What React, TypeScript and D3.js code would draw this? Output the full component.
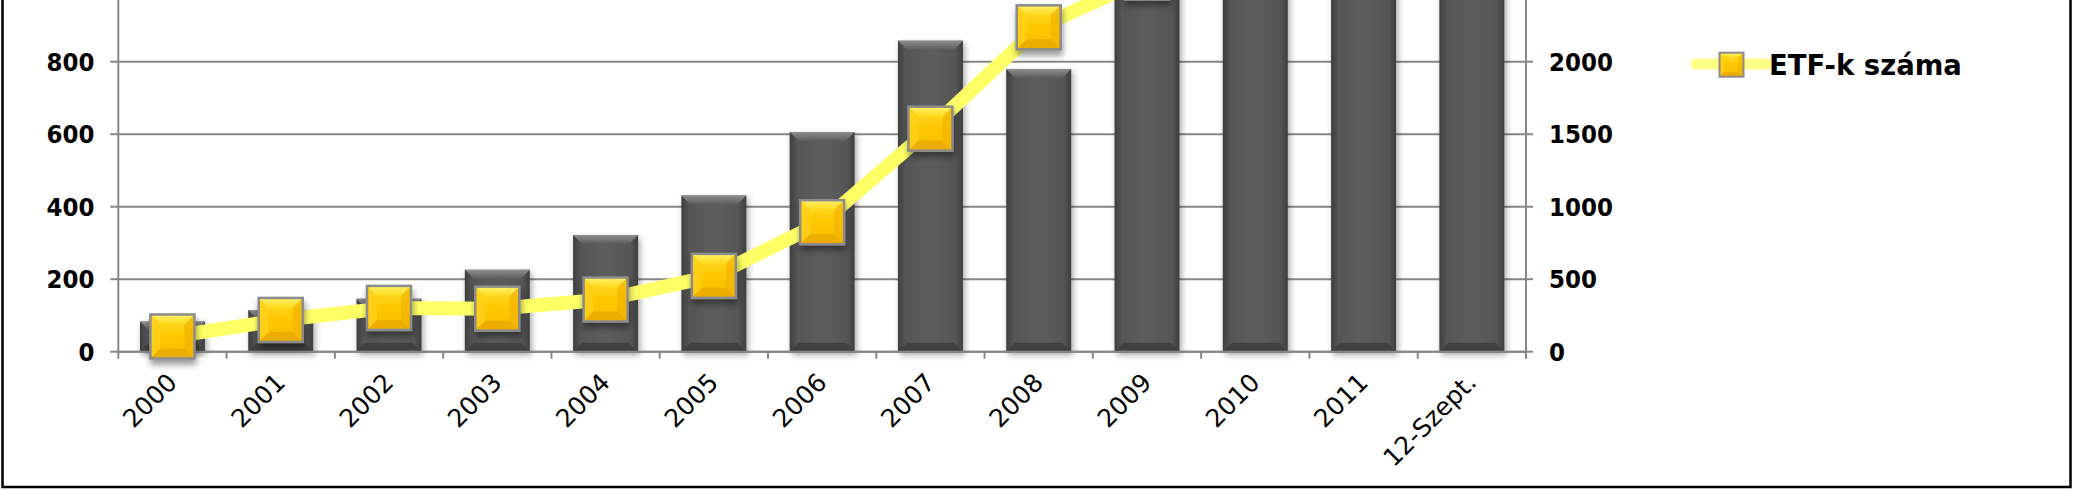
import React from "react";
import * as d3 from "d3";

const categories = ["2000","2001","2002","2003","2004","2005","2006","2007","2008","2009","2010","2011","12-Szept."];
const assets = [83, 115, 146, 226, 322, 431, 606, 858, 780, 1100, 1300, 1350, 1700];
const etfCount = [105, 219, 302, 297, 360, 523, 893, 1538, 2237, 2580, 2950, 3250, 3500];
const leftTicks = [0, 200, 400, 600, 800];
const rightTicks = [0, 500, 1000, 1500, 2000];
const legendLabel = "ETF-k száma";

const W = 2073, H = 491;
const plotLeft = 118.3, plotRight = 1526;
const yZero = 351.7, yTopTick = 61.7;
const axisFont = "'DejaVu Sans Condensed', 'DejaVu Sans', sans-serif";
const labelFont = "'DejaVu Sans', Verdana, sans-serif";

export default function App() {
  const x = d3.scaleBand<string>().domain(categories).range([plotLeft, plotRight]).padding(0);
  const yL = d3.scaleLinear().domain([0, 800]).range([yZero, yTopTick]);
  const yR = d3.scaleLinear().domain([0, 2000]).range([yZero, yTopTick]);
  const bw = x.bandwidth();
  const barW = bw * 0.6;
  const cx = (c: string) => (x(c) as number) + bw / 2;
  const lineGen = d3.line<number>().x((_, i) => cx(categories[i])).y((v) => yR(v));
  const mk = 44;
  const bb = 9;
  const mb = 10;

  const marker = (xc: number, yc: number, s: number, b: number, key: string, shadow: boolean) => {
    const x0 = xc - s / 2, x1 = xc + s / 2, y0 = yc - s / 2, y1 = yc + s / 2;
    return (
      <g key={key} filter={shadow ? "url(#mkShadow)" : undefined}>
        <rect x={x0} y={y0} width={s} height={s} fill="url(#mkBody)" />
        <polygon points={`${x0},${y0} ${x1},${y0} ${x1 - b},${y0 + b} ${x0 + b},${y0 + b}`} fill="url(#mkTop)" />
        <polygon points={`${x0},${y0} ${x0 + b},${y0 + b} ${x0 + b},${y1 - b} ${x0},${y1}`} fill="#ffd21a" opacity={0.7} />
        <polygon points={`${x1},${y0} ${x1 - b},${y0 + b} ${x1 - b},${y1 - b} ${x1},${y1}`} fill="#f2b300" opacity={0.7} />
        <polygon points={`${x0},${y1} ${x1},${y1} ${x1 - b},${y1 - b} ${x0 + b},${y1 - b}`} fill="#eaa900" opacity={0.8} />
        <rect x={x0} y={y0} width={s} height={s} fill="none" stroke="#8c8c8c" strokeWidth={s > 30 ? 2.5 : 2} />
      </g>
    );
  };

  return (
    <div style={{ position: "absolute", left: 0, top: 0, width: W, height: H, background: "#fff" }}>
      <svg width={W} height={H} style={{ display: "block" }}>
        <defs>
          <linearGradient id="barBody" x1="0" y1="0" x2="1" y2="0">
            <stop offset="0" stopColor="#3e3e3e" />
            <stop offset="0.12" stopColor="#565656" />
            <stop offset="0.5" stopColor="#5d5d5d" />
            <stop offset="0.88" stopColor="#565656" />
            <stop offset="1" stopColor="#3e3e3e" />
          </linearGradient>
          <linearGradient id="barTop" x1="0" y1="0" x2="0" y2="1">
            <stop offset="0" stopColor="#8e8e8e" />
            <stop offset="1" stopColor="#5c5c5c" />
          </linearGradient>
          <linearGradient id="mkBody" x1="0" y1="0" x2="0" y2="1">
            <stop offset="0" stopColor="#ffdc2e" />
            <stop offset="0.5" stopColor="#ffc800" />
            <stop offset="1" stopColor="#f7bb00" />
          </linearGradient>
          <linearGradient id="mkTop" x1="0" y1="0" x2="0" y2="1">
            <stop offset="0" stopColor="#fff36a" />
            <stop offset="1" stopColor="#ffd81c" />
          </linearGradient>
          <filter id="barShadow" x="-20%" y="-20%" width="140%" height="140%">
            <feDropShadow dx="2" dy="3" stdDeviation="3" floodColor="#000" floodOpacity="0.35" />
          </filter>
          <filter id="mkShadow" x="-40%" y="-40%" width="180%" height="180%">
            <feDropShadow dx="1" dy="5" stdDeviation="3" floodColor="#000" floodOpacity="0.4" />
          </filter>
        </defs>

        {/* frame */}
        <rect x={2.5} y={-10} width={2068} height={497} fill="none" stroke="#000" strokeWidth={2.5} />

        {/* gridlines */}
        {leftTicks.map((t) => (
          <line key={"g" + t} x1={plotLeft} x2={plotRight} y1={yL(t)} y2={yL(t)} stroke="#878787" strokeWidth={2} />
        ))}

        {/* bars */}
        {categories.map((c, i) => {
          const x0 = cx(c) - barW / 2, x1 = cx(c) + barW / 2;
          const yt = yL(assets[i]), yb = yZero;
          return (
            <g key={"b" + c} filter="url(#barShadow)">
              <rect x={x0} y={yt} width={barW} height={yb - yt} fill="url(#barBody)" />
              <polygon points={`${x0},${yt} ${x1},${yt} ${x1 - bb},${yt + bb} ${x0 + bb},${yt + bb}`} fill="url(#barTop)" />
              <polygon points={`${x0},${yb} ${x1},${yb} ${x1 - bb},${yb - bb} ${x0 + bb},${yb - bb}`} fill="#404040" />
            </g>
          );
        })}

        {/* axes */}
        <line x1={plotLeft} x2={plotLeft} y1={-20} y2={yZero} stroke="#878787" strokeWidth={2} />
        <line x1={plotRight} x2={plotRight} y1={-20} y2={yZero} stroke="#878787" strokeWidth={2} />
        <line x1={plotLeft} x2={plotRight} y1={yZero} y2={yZero} stroke="#878787" strokeWidth={2} />
        {leftTicks.map((t) => (
          <line key={"lt" + t} x1={plotLeft - 8} x2={plotLeft} y1={yL(t)} y2={yL(t)} stroke="#878787" strokeWidth={2} />
        ))}
        {rightTicks.map((t) => (
          <line key={"rt" + t} x1={plotRight} x2={plotRight + 7} y1={yR(t)} y2={yR(t)} stroke="#878787" strokeWidth={2} />
        ))}
        {categories.map((c) => (
          <line key={"ct" + c} x1={x(c) as number} x2={x(c) as number} y1={yZero} y2={yZero + 7} stroke="#878787" strokeWidth={2} />
        ))}
        <line x1={plotRight} x2={plotRight} y1={yZero} y2={yZero + 7} stroke="#878787" strokeWidth={2} />

        {/* axis labels */}
        {leftTicks.map((t) => (
          <text key={"ll" + t} x={94.5} y={yL(t)} dy="0.36em" textAnchor="end" fontFamily={axisFont} fontWeight="bold" fontSize={25.5} fill="#000">
            {t}
          </text>
        ))}
        {rightTicks.map((t) => (
          <text key={"rl" + t} x={1549} y={yR(t)} dy="0.36em" textAnchor="start" fontFamily={axisFont} fontWeight="bold" fontSize={25.5} fill="#000">
            {t}
          </text>
        ))}
        {categories.map((c) => (
          <text key={"xl" + c} transform={`translate(${cx(c) + 6},${384}) rotate(-45)`} textAnchor="end" fontFamily={labelFont} fontSize={25} fill="#000">
            {c}
          </text>
        ))}

        {/* line */}
        <path d={lineGen(etfCount) || ""} fill="none" stroke="#ffff66" strokeWidth={14} strokeLinejoin="round" />
        {etfCount.map((v, i) => marker(cx(categories[i]), yR(v), mk, mb, "m" + i, true))}

        {/* legend */}
        <line x1={1696} x2={1767} y1={64} y2={64} stroke="#ffff88" strokeWidth={11} strokeLinecap="round" />
        {marker(1731.5, 64.7, 24, 5, "legm", false)}
        <text x={1769} y={75} fontFamily={labelFont} fontWeight="bold" fontSize={27.5} fill="#000">
          {legendLabel}
        </text>
      </svg>
    </div>
  );
}
